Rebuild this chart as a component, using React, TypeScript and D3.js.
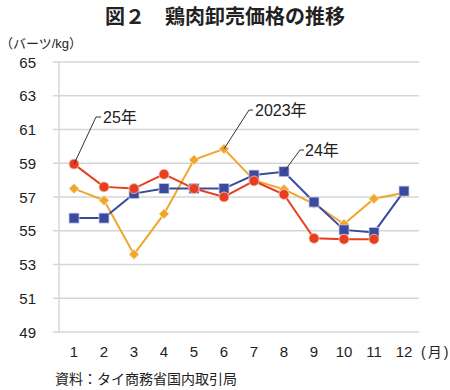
import React from "react";
import * as d3 from "d3";

const months = ["1", "2", "3", "4", "5", "6", "7", "8", "9", "10", "11", "12"];
const yTicks = [49, 51, 53, 55, 57, 59, 61, 63, 65];
const s2023 = [57.5, 56.8, 53.6, 56.0, 59.2, 59.85, 58.0, 57.45, 56.6, 55.4, 56.9, 57.25];
const s24 = [55.75, 55.75, 57.2, 57.5, 57.5, 57.5, 58.3, 58.5, 56.7, 55.05, 54.9, 57.35];
const s25 = [58.95, 57.6, 57.5, 58.35, 57.5, 57.0, 57.95, 57.15, 54.55, 54.5, 54.5];

const W = 450, H = 390;
const JP = "'Liberation Sans', 'Noto Sans CJK JP', sans-serif";

export default function App() {
  const x = d3.scaleBand().domain(months).range([59, 419]);
  const xc = (i: number) => (x(months[i]) as number) + x.bandwidth() / 2;
  const y = d3.scaleLinear().domain([49, 65]).range([332, 62]);
  const line = d3.line<number>().x((_, i) => xc(i)).y((d) => y(d));

  const red = "#e63e1e", orange = "#f0a52c", blue = "#3a4a9e";

  return (
    <svg width={W} height={H} style={{ position: "absolute", left: 0, top: 0, background: "#fff" }} fontFamily={JP}>
      <text x={225} y={24} textAnchor="middle" fontSize={20} fontWeight="bold" fill="#222">図２　鶏肉卸売価格の推移</text>
      <text x={0} y={48} fontSize={13} fill="#222">（バーツ/kg）</text>
      {yTicks.map((t) => (
        <g key={t}>
          <line x1={53} x2={419} y1={y(t)} y2={y(t)} stroke="#d6d6d6" strokeWidth={1.5} />
          <text x={36} y={y(t) + 5.5} textAnchor="end" fontSize={15} fill="#222">{t}</text>
        </g>
      ))}
      <line x1={59} x2={59} y1={62} y2={332} stroke="#d6d6d6" strokeWidth={1.5} />
      {months.map((m, i) => (
        <text key={m} x={xc(i)} y={357} textAnchor="middle" fontSize={15} fill="#222">{m}</text>
      ))}
      <text x={421} y={357} fontSize={14} fill="#222" letterSpacing={2}>(月)</text>
      <text x={55} y={384} fontSize={14} fill="#222">資料：タイ商務省国内取引局</text>

      <path d={line(s2023) || ""} fill="none" stroke={orange} strokeWidth={2} />
      <path d={line(s24) || ""} fill="none" stroke={blue} strokeWidth={2} />
      <path d={line(s25) || ""} fill="none" stroke={red} strokeWidth={2} />

      {s2023.map((v, i) => (
        <rect key={"o" + i} x={-3.6} y={-3.6} width={7.2} height={7.2} transform={`translate(${xc(i)},${y(v)}) rotate(45)`} fill={orange} stroke="#fde9c8" strokeWidth={0.8} />
      ))}
      {s24.map((v, i) => (
        <rect key={"b" + i} x={xc(i) - 5} y={y(v) - 5} width={10} height={10} fill={blue} stroke="#c9cde6" strokeWidth={0.8} />
      ))}
      {s25.map((v, i) => (
        <circle key={"r" + i} cx={xc(i)} cy={y(v)} r={5} fill={red} stroke="#f8c8bd" strokeWidth={0.8} />
      ))}

      {/* annotations */}
      <polyline points={`${xc(0)},${y(s25[0])} ${96},${117} ${101},${117}`} fill="none" stroke="#333" strokeWidth={1} />
      <text x={103} y={123} fontSize={16} fill="#222">25年</text>
      <polyline points={`${xc(5)},${y(s2023[5])} ${249},${110} ${253},${110}`} fill="none" stroke="#333" strokeWidth={1} />
      <text x={255} y={116} fontSize={16} fill="#222">2023年</text>
      <polyline points={`${xc(7)},${y(s24[7])} ${300},${150} ${304},${150}`} fill="none" stroke="#333" strokeWidth={1} />
      <text x={305} y={156} fontSize={16} fill="#222">24年</text>
    </svg>
  );
}
